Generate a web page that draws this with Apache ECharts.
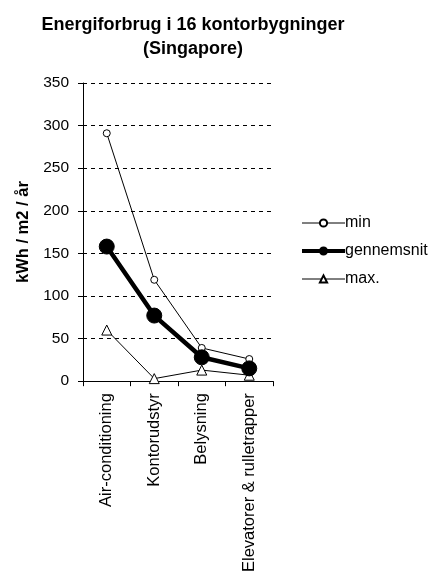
<!DOCTYPE html>
<html><head><meta charset="utf-8">
<script src="https://cdn.jsdelivr.net/npm/echarts@6/dist/echarts.min.js"></script>
<style>html,body{margin:0;padding:0;background:#fff}#c{width:429px;height:575px}</style>
</head><body><div id="c"></div>
<script>
const categories = ['Air-conditioning', 'Kontorudstyr', 'Belysning', 'Elevatorer & rulletrapper'];
const minValues = [291, 119, 39, 26];
const avgValues = [158, 77, 28, 15];
const maxValues = [60, 3, 13, 7];
const yTicks = [0, 50, 100, 150, 200, 250, 300, 350];

const font = 'Liberation Sans, Arial, sans-serif';
const chart = echarts.init(document.getElementById('c'), null, {renderer: 'canvas'});
chart.setOption({
  animation: false,
  backgroundColor: '#fff',
  title: {
    text: 'Energiforbrug i 16 kontorbygninger\n(Singapore)',
    left: 188, top: 8, textAlign: 'center',
    textStyle: {fontFamily: font, fontSize: 18, fontWeight: 'bold', color: '#000', lineHeight: 24}
  },
  grid: {left: 83, right: 156, top: 83, bottom: 192, containLabel: false},
  legend: {
    orient: 'vertical', left: 295, top: 210, itemWidth: 43, itemHeight: 9, itemGap: 12,
    textStyle: {fontFamily: font, fontSize: 16, color: '#000', padding: [0,0,0,-5]},
    data: [
      {name: 'min', lineStyle: {width: 1, color: '#000'}},
      {name: 'gennemsnit', lineStyle: {width: 4, color: '#000'}},
      {name: 'max.', lineStyle: {width: 1, color: '#000'}}
    ]
  },
  xAxis: {
    type: 'category', data: categories, boundaryGap: true,
    axisLine: {lineStyle: {color: '#000', width: 1}},
    axisTick: {show: true, length: 5, lineStyle: {color: '#000'}},
    axisLabel: {rotate: 90, margin: 12, fontFamily: font, fontSize: 16.5, color: '#000'}
  },
  yAxis: {
    type: 'value', min: 0, max: 350, interval: 50,
    name: 'kWh / m2 / år', nameLocation: 'middle', nameGap: 51, nameRotate: 90,
    nameTextStyle: {fontFamily: font, fontSize: 16.5, fontWeight: 'bold', color: '#000'},
    axisLine: {show: true, lineStyle: {color: '#000'}},
    axisTick: {show: true, length: 5, inside: false, lineStyle: {color: '#000'}},
    axisLabel: {fontFamily: font, fontSize: 15.5, color: '#000', margin: 14,
      formatter: v => yTicks.includes(v) ? String(v) : ''},
    splitLine: {show: true, lineStyle: {color: '#000', type: [4, 4], width: 1}}
  },
  series: [
    {name: 'min', type: 'line', data: minValues, symbol: 'circle', symbolSize: 7,
     lineStyle: {color: '#000', width: 1}, itemStyle: {color: '#fff', borderColor: '#000', borderWidth: 1}, z: 3},
    {name: 'gennemsnit', type: 'line', data: avgValues, symbol: 'circle', symbolSize: 15,
     lineStyle: {color: '#000', width: 4.5}, itemStyle: {color: '#000', borderColor: '#000', borderWidth: 1}, z: 4},
    {name: 'max.', type: 'line', data: maxValues, symbol: 'triangle', symbolSize: 10,
     lineStyle: {color: '#000', width: 1}, itemStyle: {color: '#fff', borderColor: '#000', borderWidth: 1}, z: 3}
  ]
});
</script></body></html>
